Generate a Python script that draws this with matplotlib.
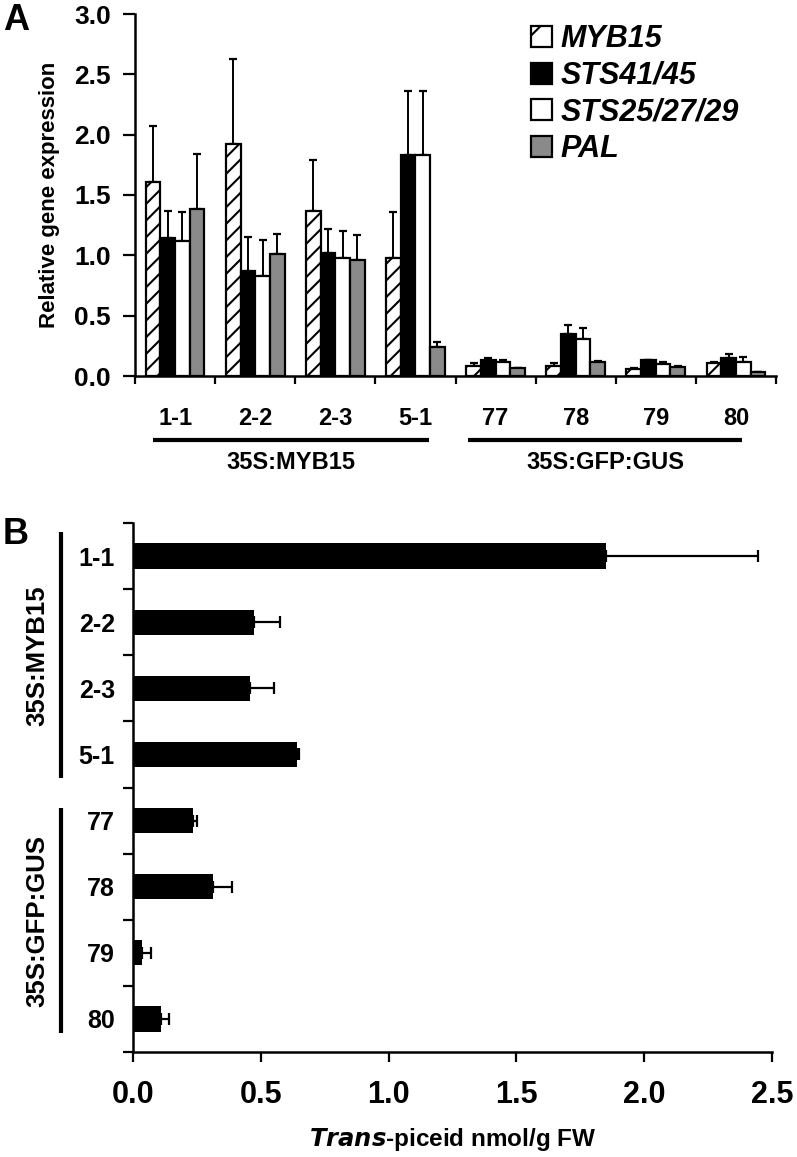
import matplotlib
matplotlib.use("Agg")
import matplotlib.pyplot as plt
import matplotlib.transforms as mtransforms
from matplotlib import font_manager as fm
from matplotlib.patches import Patch
from matplotlib.lines import Line2D
import numpy as np

# ---------------- data ----------------
lines_A = ['1-1', '2-2', '2-3', '5-1', '77', '78', '79', '80']
genes = ['MYB15', 'STS41/45', 'STS25/27/29', 'PAL']
myb15 = [1.61, 1.92, 1.37, 0.98, 0.085, 0.085, 0.061, 0.11]
myb15_err = [0.46, 0.71, 0.42, 0.38, 0.02, 0.02, 0.006, 0.008]
sts41 = [1.14, 0.87, 1.02, 1.83, 0.133, 0.346, 0.133, 0.146]
sts41_err = [0.23, 0.28, 0.20, 0.53, 0.02, 0.078, 0.003, 0.034]
sts25 = [1.12, 0.83, 0.98, 1.83, 0.113, 0.307, 0.097, 0.119]
sts25_err = [0.24, 0.30, 0.22, 0.53, 0.02, 0.088, 0.016, 0.041]
pal = [1.38, 1.01, 0.96, 0.24, 0.07, 0.113, 0.077, 0.036]
pal_err = [0.46, 0.17, 0.21, 0.04, 0.0, 0.011, 0.003, 0.0]
groups = ['35S:MYB15', '35S:GFP:GUS']

lines_B = ['1-1', '2-2', '2-3', '5-1', '77', '78', '79', '80']
piceid = [1.85, 0.475, 0.458, 0.643, 0.236, 0.314, 0.037, 0.108]
piceid_err = [0.595, 0.10, 0.095, 0.006, 0.015, 0.072, 0.032, 0.033]

# ---------------- style ----------------
plt.rcParams['font.family'] = ['Liberation Sans', 'DejaVu Sans']
plt.rcParams['font.weight'] = 'bold'
plt.rcParams['hatch.linewidth'] = 1.5
installed = {f.name for f in fm.fontManager.ttflist}
if 'Liberation Sans Narrow' in installed:
    NARROW = dict(family=['Liberation Sans Narrow', 'Liberation Sans'])
    NSIZE = 19
else:
    NARROW = dict(family=['Liberation Sans', 'DejaVu Sans'])
    NSIZE = 17

W, H = 797, 1157
fig = plt.figure(figsize=(W / 100, H / 100), dpi=100)

def fx(px):
    return px / W

def fy(py):
    return 1 - py / H

# ---------------- Panel A ----------------
axA = fig.add_axes([fx(135), fy(376), fx(776 - 135), (376 - 14) / H])
x = np.arange(len(lines_A))
bw = 0.183
series = [
    (myb15, myb15_err, dict(facecolor='white', hatch='//')),
    (sts41, sts41_err, dict(facecolor='black')),
    (sts25, sts25_err, dict(facecolor='white')),
    (pal, pal_err, dict(facecolor='#8a8a8a')),
]
handles = []
for i, (vals, errs, st) in enumerate(series):
    pos = x + (i - 1.5) * bw
    axA.errorbar(pos, vals, yerr=[np.zeros(len(vals)), errs], fmt='none',
                 ecolor='black', elinewidth=1.4, capsize=3, capthick=1.6, zorder=1)
    axA.bar(pos, vals, width=bw, edgecolor='black', linewidth=1.6, zorder=2, **st)
    hst = dict(st)
    if 'hatch' in hst:
        hst['hatch'] = '/'
    handles.append(Patch(edgecolor='black', linewidth=1.6, **hst))

axA.set_xlim(-0.5, len(lines_A) - 0.5)
axA.set_ylim(0, 3.0)
axA.set_yticks(np.arange(0, 3.01, 0.5))
axA.set_yticklabels([f'{v:.1f}' for v in np.arange(0, 3.01, 0.5)], fontsize=19, fontweight='bold')
axA.set_xticks(np.arange(-0.5, len(lines_A)), labels=[''] * (len(lines_A) + 1))
axA.set_xticks(x, minor=True)
axA.set_xticklabels(lines_A, minor=True, fontsize=NSIZE, fontweight='bold', **NARROW)
axA.tick_params(axis='x', which='minor', length=0, pad=22)
axA.tick_params(axis='x', which='major', length=6, width=1.6, direction='out')
axA.tick_params(axis='y', length=8.5, width=1.6, direction='out', pad=9)
for s in ['top', 'right']:
    axA.spines[s].set_visible(False)
for s in ['left', 'bottom']:
    axA.spines[s].set_linewidth(1.8)
axA.set_ylabel('Relative gene expression', fontsize=16, fontweight='bold', labelpad=10)

trA = mtransforms.blended_transform_factory(axA.transData, axA.transAxes)
group_spans_A = [(-0.27, 3.17), (3.66, 7.07)]
for (a, b), g in zip(group_spans_A, groups):
    axA.add_line(Line2D([a, b], [-0.177, -0.177], transform=trA, color='black',
                        linewidth=3, clip_on=False, solid_capstyle='butt'))
    axA.text((a + b) / 2, -0.24, g, transform=trA, ha='center', va='center',
             fontsize=NSIZE, fontweight='bold', **NARROW)

leg = axA.legend(handles, genes, loc='upper left', bbox_to_anchor=(fx(531), fy(24)),
                 bbox_transform=fig.transFigure, frameon=False, borderpad=0,
                 handlelength=0.68, handleheight=0.68, handletextpad=0.3,
                 labelspacing=0.22, borderaxespad=0,
                 prop=dict(size=22, weight='bold', style='italic'))

fig.text(fx(3), fy(21), 'A', fontsize=26, fontweight='bold', ha='left', va='center')

# ---------------- Panel B ----------------
axB = fig.add_axes([fx(133), fy(1052), fx(772 - 133), (1052 - 523) / H])
y = np.arange(len(lines_B))
axB.errorbar(piceid, y, xerr=[np.zeros(len(piceid)), piceid_err], fmt='none',
             ecolor='black', elinewidth=1.6, capsize=4.5, capthick=1.6, zorder=1)
axB.barh(y, piceid, height=0.38, color='black', zorder=2)
axB.set_ylim(len(lines_B) - 0.5, -0.5)
axB.set_xlim(0, 2.5)
axB.set_xticks(np.arange(0, 2.51, 0.5))
axB.set_xticklabels([f'{v:.1f}' for v in np.arange(0, 2.51, 0.5)], fontsize=22, fontweight='bold')
axB.set_yticks(np.arange(-0.5, len(lines_B)), labels=[''] * (len(lines_B) + 1))
axB.set_yticks(y, minor=True)
axB.set_yticklabels(lines_B, minor=True, fontsize=18, fontweight='bold')
axB.tick_params(axis='y', which='minor', length=0, pad=13)
axB.tick_params(axis='y', which='major', length=7, width=1.6, direction='out')
axB.tick_params(axis='x', length=7, width=1.6, direction='out', pad=13)
for s in ['top', 'right']:
    axB.spines[s].set_visible(False)
for s in ['left', 'bottom']:
    axB.spines[s].set_linewidth(1.8)
axB.set_xlabel(r'$\bfit{Trans}$-piceid nmol/g FW', fontsize=17.5, fontweight='bold', labelpad=12)

trB = mtransforms.blended_transform_factory(axB.transAxes, axB.transData)
group_spans_B = [(-0.36, 3.36), (3.81, 7.22)]
for (a, b), g in zip(group_spans_B, groups):
    axB.add_line(Line2D([-0.1127, -0.1127], [a, b], transform=trB, color='black',
                        linewidth=3, clip_on=False, solid_capstyle='butt'))
    axB.text(-0.150, (a + b) / 2, g, transform=trB, ha='center', va='center',
             rotation=90, fontsize=18.5, fontweight='bold')

fig.text(fx(3), fy(535), 'B', fontsize=26, fontweight='bold', ha='left', va='center')

fig.savefig('out.png', dpi=100)
